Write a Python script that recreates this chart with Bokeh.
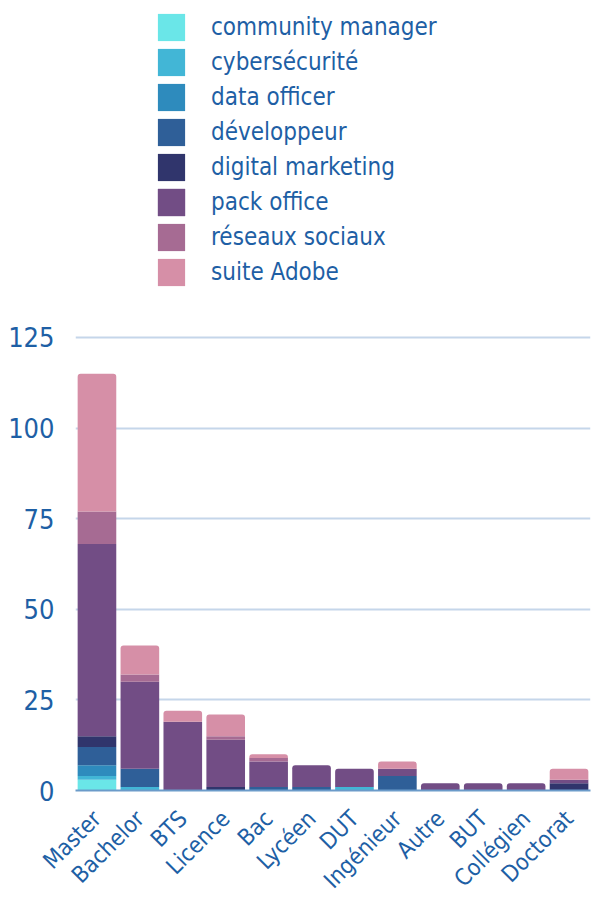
import numpy as np
from math import pi
from bokeh.plotting import figure
from bokeh.models import (ColumnDataSource, CDSView, BooleanFilter, FixedTicker,
                          Range1d, Legend, LegendItem, FactorRange)
from bokeh.embed import file_html
from bokeh.resources import INLINE

categories = ["Master", "Bachelor", "BTS", "Licence", "Bac", "Lycéen", "DUT",
              "Ingénieur", "Autre", "BUT", "Collégien", "Doctorat"]

series_names = ["community manager", "cybersécurité", "data officer", "développeur",
                "digital marketing", "pack office", "réseaux sociaux", "suite Adobe"]

community_manager = [3, 0, 0, 0, 0, 0, 0, 0, 0, 0, 0, 0]
cybersecurite     = [1, 1, 0, 0, 0, 0, 1, 0, 0, 0, 0, 0]
data_officer      = [3, 0, 0, 0, 0, 0, 0, 0, 0, 0, 0, 0]
developpeur       = [5, 5, 0, 0, 1, 1, 0, 4, 0, 0, 0, 0]
digital_marketing = [3, 0, 0, 1, 0, 0, 0, 0, 0, 0, 0, 2]
pack_office       = [53, 24, 19, 13, 7, 6, 5, 2, 2, 2, 2, 1]
reseaux_sociaux   = [9, 2, 0, 1, 1, 0, 0, 0, 0, 0, 0, 0]
suite_adobe       = [38, 8, 3, 6, 1, 0, 0, 2, 0, 0, 0, 3]

colors = ["#6ae6e8", "#42b6d6", "#2e8bbd", "#2f5f98",
          "#30356c", "#724d85", "#a66b93", "#d68fa7"]

y_ticks = [0, 25, 50, 75, 100, 125]

TEXT = "#1e5fa5"
FONT = "DejaVu Sans Condensed, Roboto"

values = [community_manager, cybersecurite, data_officer, developpeur,
          digital_marketing, pack_office, reseaux_sociaux, suite_adobe]
arr = np.array(values, dtype=float)
cum = np.cumsum(arr, axis=0)
bottoms = cum - arr
n_s, n_c = arr.shape
top_idx = np.array([max(i for i in range(n_s) if arr[i, j] > 0) for j in range(n_c)])

p = figure(x_range=FactorRange(*categories), y_range=Range1d(0, 216.6),
           width=599, height=909, output_backend="svg", toolbar_location=None,
           min_border_left=75, min_border_right=9, min_border_top=5,
           min_border_bottom=119)

items = []
for i in range(n_s):
    nonzero = arr[i] > 0
    is_top = top_idx == i
    not_top = nonzero & ~is_top
    src = ColumnDataSource(dict(x=categories, bottom=bottoms[i], top=cum[i]))
    r1 = p.vbar(x="x", bottom="bottom", top="top", width=0.9, source=src,
                view=CDSView(filter=BooleanFilter([bool(b) for b in not_top])),
                fill_color=colors[i], line_color=None)
    r2 = p.vbar(x="x", bottom="bottom", top="top", width=0.9, source=src,
                view=CDSView(filter=BooleanFilter([bool(b) for b in is_top])),
                fill_color=colors[i], line_color=None, border_radius=(3, 3, 0, 0))
    items.append(LegendItem(label=series_names[i], renderers=[r1, r2]))

legend = Legend(items=items, location=(79, 501), border_line_color=None,
                background_fill_alpha=0, padding=0, margin=0, spacing=1,
                glyph_width=34, glyph_height=34, label_height=30,
                label_standoff=23, label_text_font_size="24px",
                label_text_color=TEXT, label_text_font=FONT)
p.add_layout(legend)

p.outline_line_color = None
p.xgrid.visible = False
p.yaxis.ticker = FixedTicker(ticks=y_ticks)
p.ygrid.grid_line_color = "#c5d6ea"
p.ygrid.grid_line_width = 2

p.yaxis.axis_line_color = None
p.yaxis.major_tick_line_color = None
p.yaxis.minor_tick_line_color = None
p.yaxis.major_tick_out = 0
p.yaxis.major_label_standoff = 21
p.yaxis.major_label_text_font_size = "27px"
p.yaxis.major_label_text_color = TEXT
p.yaxis.major_label_text_font = FONT

p.xaxis.axis_line_color = "#6b9bc9"
p.xaxis.axis_line_width = 2
p.xaxis.major_tick_line_color = None
p.xaxis.major_tick_out = 0
p.xaxis.major_label_orientation = pi / 4
p.xaxis.major_label_standoff = 24
p.xaxis.major_label_text_font_size = "23px"
p.xaxis.major_label_text_color = TEXT
p.xaxis.major_label_text_font = FONT

open("out.html", "w").write(file_html(p, INLINE))
